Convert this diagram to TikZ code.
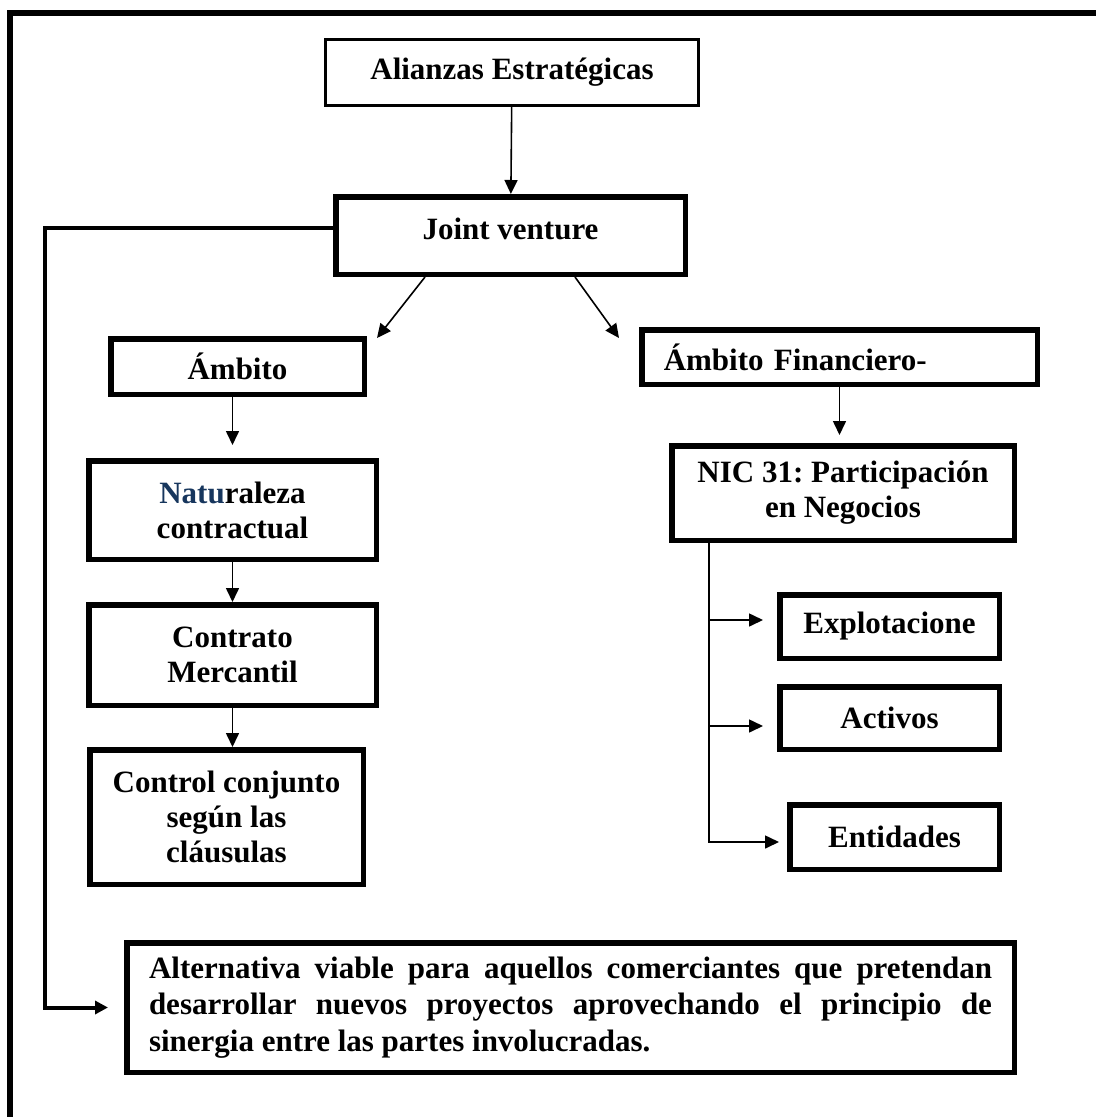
\documentclass[tikz,border=0pt]{standalone}
\usepackage{fontspec}
\setmainfont{Liberation Serif}
\usepackage{tikz}
\usetikzlibrary{arrows.meta,positioning}
\definecolor{natblue}{RGB}{23,54,93}
\frenchspacing

\begin{document}
\begin{tikzpicture}[
    x=1pt, y=-1pt,
    box/.style={draw, line width=5.5pt, align=center,
                font=\fontsize{31}{35}\selectfont\bfseries, inner sep=2pt},
    boxthin/.style={box, line width=3pt},
    arr/.style={line width=1.6pt, -{Triangle[length=14pt,width=13pt]}},
    link/.style={line width=4pt, -{Triangle[length=13pt,width=13pt]}}
]
\useasboundingbox (0,0) rectangle (1096,1117);
\draw[line width=6pt] (10,1117) -- (10,13) -- (1096,13);

\node[boxthin, minimum width=373pt, minimum height=66pt] (alianzas) at (512,72.5) {Alianzas Estratégicas};
\node[box, minimum width=349.5pt, minimum height=77.5pt] (joint) at (510.5,235.5) {Joint venture\rule[-14pt]{0pt}{0pt}};

\node[box, minimum width=253.5pt, minimum height=55.5pt] (ambito) at (237.5,366.5) {Ámbito};
\node[box, minimum width=287.5pt, minimum height=98.5pt] (natur) at (232.5,510) {\textcolor{natblue}{Natu}raleza\\contractual};
\node[box, minimum width=287.5pt, minimum height=100.5pt, below=40pt of natur] (contrato) {Contrato\\Mercantil};
\node[box, minimum width=273.5pt, minimum height=134.5pt] (control) at (226.5,817) {Control conjunto\\según las\\cláusulas};

\node[box, minimum width=395.5pt, minimum height=54.5pt, text width=351.5pt, align=left, inner xsep=22pt] (financ) at (839.5,357) {Ámbito Financiero-};
\node[box, minimum width=342.5pt, minimum height=94.5pt] (nic) at (843,493) {NIC 31: Participación\\en Negocios};
\node[box, minimum width=219.5pt, minimum height=63.5pt] (explot) at (889.5,626.5) {Explotacione};
\node[box, minimum width=219.5pt, minimum height=62.5pt, below=23pt of explot] (activos) {Activos};
\node[box, minimum width=209.5pt, minimum height=64.5pt] (entid) at (894.5,837) {Entidades};

\node[box, minimum width=887.5pt, minimum height=129.5pt, text width=843pt, align=justify,
      font=\fontsize{31}{36.5}\selectfont\bfseries] (altern) at (570.5,1007.5)
    {Alternativa viable para aquellos comerciantes que pretendan\linebreak
     desarrollar nuevos proyectos aprovechando el principio de\linebreak
     sinergia entre las partes involucradas.};

\coordinate (tipizq) at (377,338);
\coordinate (tipder) at (619,338);
\coordinate (bus) at ([xshift=40pt]nic.south west);

\draw[arr] (alianzas) -- (joint);
\draw[arr] ([xshift=92pt]joint.south west) -- (tipizq);
\draw[arr] ([xshift=-113pt]joint.south east) -- (tipder);
\draw[arr, shorten >=13pt] (ambito.south -| natur.north) -- (natur.north);
\draw[arr] (natur) -- (contrato);
\draw[arr] (contrato.south) -- (contrato.south |- control.north);
\draw[arr, shorten >=8pt] (financ.south) -- (financ.south |- nic.north);

\draw[arr, shorten >=14pt] (bus) |- ([yshift=6.5pt]explot.west);
\draw[arr, shorten >=14pt] (bus) |- ([yshift=-8pt]activos.west);
\draw[arr, shorten >=8pt] (bus) |- ([yshift=-5pt]entid.west);

\draw[link, shorten >=16pt] ([yshift=7.5pt]joint.west) -- ++(-288,0) |- (altern.west);
\end{tikzpicture}
\end{document}
